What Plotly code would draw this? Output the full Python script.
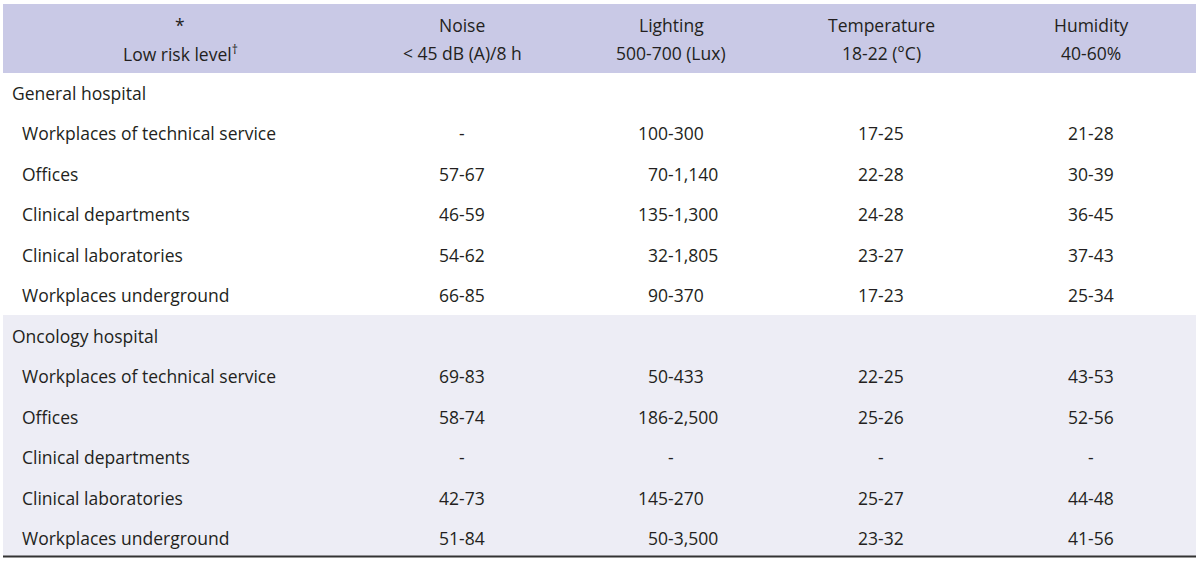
import plotly.graph_objects as go

# ---- data ----
header_risk = ["*", "Low risk level<sup>†</sup>"]
header_cols = [["Noise", "< 45 dB (A)/8 h"],
               ["Lighting", "500-700 (Lux)"],
               ["Temperature", "18-22 (°C)"],
               ["Humidity", "40-60%"]]
groups = ["General hospital", "Oncology hospital"]
workplaces = ["Workplaces of technical service", "Offices", "Clinical departments",
              "Clinical laboratories", "Workplaces underground"]

general_noise = ["-", "57-67", "46-59", "54-62", "66-85"]
general_lighting = ["100-300", "70-1,140", "135-1,300", "32-1,805", "90-370"]
general_temperature = ["17-25", "22-28", "24-28", "23-27", "17-23"]
general_humidity = ["21-28", "30-39", "36-45", "37-43", "25-34"]

oncology_noise = ["69-83", "58-74", "-", "42-73", "51-84"]
oncology_lighting = ["50-433", "186-2,500", "-", "145-270", "50-3,500"]
oncology_temperature = ["22-25", "25-26", "-", "25-27", "23-32"]
oncology_humidity = ["43-53", "52-56", "-", "44-48", "41-56"]

group_values = [
    [general_noise, general_lighting, general_temperature, general_humidity],
    [oncology_noise, oncology_lighting, oncology_temperature, oncology_humidity],
]

# ---- layout constants ----
W, H = 1200, 561
FONT = "Open Sans"
FS = 17.5
TXT = "#231f20"
col_centers = [462, 671, 881, 1091]
risk_center = 180
light_left = 636
row_top = 93
row_step = 40.45
head_lines = [25, 53]

fig = go.Figure()
fig.add_trace(go.Scatter(x=[0], y=[0], mode="markers", marker=dict(opacity=0),
                         hoverinfo="skip", showlegend=False))

shapes = [
    dict(type="rect", xref="x", yref="y", x0=3, x1=1196, y0=4, y1=73,
         fillcolor="#c9c9e6", line=dict(width=0), layer="below"),
    dict(type="rect", xref="x", yref="y", x0=3, x1=1196, y0=315, y1=556,
         fillcolor="#ededf5", line=dict(width=0), layer="below"),
    dict(type="line", xref="x", yref="y", x0=3, x1=1196, y0=556.5, y1=556.5,
         line=dict(color="#333333", width=2)),
]

ann = []
def add(text, x, y, xanchor="center"):
    ann.append(dict(text=text, x=x, y=y, xref="x", yref="y", showarrow=False,
                    xanchor=xanchor, yanchor="middle",
                    font=dict(family=FONT, size=FS, color=TXT)))

# header
for line, y in zip(header_risk, head_lines):
    add(line, risk_center, y)
for c, lines in zip(col_centers, header_cols):
    for line, y in zip(lines, head_lines):
        add(line, c, y)

FIG_SP = "\u2007"
r = 0
for g, vals in zip(groups, group_values):
    y = row_top + r * row_step
    add(g, 10, y, "left")
    r += 1
    for i, wp in enumerate(workplaces):
        y = row_top + r * row_step
        add(wp, 20, y, "left")
        for j, col in enumerate(vals):
            v = col[i]
            if j == 1 and v != "-":
                low = v.split("-")[0]
                pad = FIG_SP * max(0, 3 - len(low))
                add(pad + v, light_left, y, "left")
            else:
                add(v, col_centers[j], y, "center")
        r += 1

fig.update_layout(
    width=W, height=H, margin=dict(l=0, r=0, t=0, b=0),
    paper_bgcolor="white", plot_bgcolor="white",
    xaxis=dict(range=[0, W], visible=False, fixedrange=True),
    yaxis=dict(range=[H, 0], visible=False, fixedrange=True),
    shapes=shapes, annotations=ann, showlegend=False,
)
fig.write_html("out.html", config={"displayModeBar": False},
               post_script="document.body.style.margin='0';document.body.style.overflow='hidden';")
